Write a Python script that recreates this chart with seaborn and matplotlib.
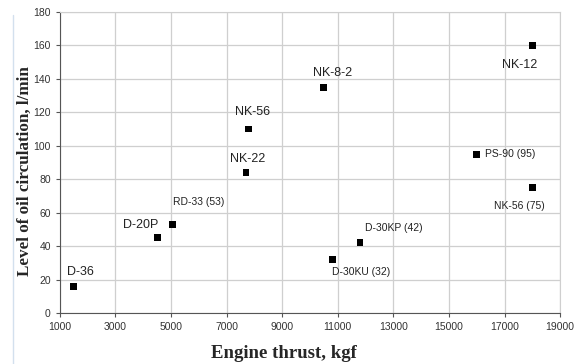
import seaborn as sns
import matplotlib.pyplot as plt
import pandas as pd
from matplotlib.lines import Line2D

engines = ["D-36", "D-20P", "RD-33 (53)", "NK-22", "NK-56", "NK-8-2",
           "D-30KU (32)", "D-30KP (42)", "NK-12", "PS-90 (95)", "NK-56 (75)"]
thrust = [1500, 4500, 5050, 7700, 7800, 10500, 10800, 11800, 18000, 16000, 18000]
oil = [16, 45, 53, 84, 110, 135, 32, 42, 160, 95, 75]
# label offsets in points, horizontal alignment, font size
offsets = [(5, 10), (-12, 9), (19, 16), (1, 10), (3, 12), (6, 10),
           (21, -9), (24, 11), (-9, -14), (6, 0), (-9, -13)]
aligns = ["center"] * 9 + ["left", "center"]
sizes = [9, 9, 7.5, 9, 9, 9, 7.5, 7.5, 9, 7.5, 7.5]

df = pd.DataFrame({"thrust": thrust, "oil": oil, "engine": engines})

sns.set_style("white")
plt.rcParams['font.family'] = ['Liberation Sans', 'DejaVu Sans']

fig = plt.figure(figsize=(5.81, 3.64), dpi=100)
ax = fig.add_axes([0.103, 0.140, 0.861, 0.827])

sns.scatterplot(data=df, x="thrust", y="oil", marker="s", color="black",
                s=24, edgecolor="none", ax=ax, zorder=3)

for name, xv, yv, off, ha, fs in zip(engines, thrust, oil, offsets, aligns, sizes):
    ax.annotate(name, (xv, yv), xytext=off, textcoords="offset points",
                ha=ha, va="center", fontsize=fs, color="#222222")

ax.set_xlim(1000, 19000)
ax.set_ylim(0, 180)
ax.set_xticks(range(1000, 19001, 2000))
ax.set_yticks(range(0, 181, 20))
ax.grid(True, color="#cfcfcf", linewidth=0.9)
ax.tick_params(labelsize=7.5, length=3, color="#555555", direction="out",
               left=True, bottom=True, labelcolor="#333333")
for side in ["top", "right"]:
    ax.spines[side].set_color("#cfcfcf")
for side in ["left", "bottom"]:
    ax.spines[side].set_color("#555555")

ax.set_xlabel("Engine thrust, kgf", family="Liberation Serif", fontweight="bold",
              fontsize=13.5, labelpad=6)
ax.xaxis.set_label_coords(0.447, -0.105)
ax.set_ylabel("Level of oil circulation, l/min", family="Liberation Serif",
              fontweight="bold", fontsize=12.3)
ax.yaxis.set_label_coords(-0.054, 0.47)

# thin border line at the left of the picture
fig.add_artist(Line2D([0.022, 0.022], [0.0, 0.96], color="#d3e0ee", linewidth=1.0))

fig.savefig("out.png", dpi=100)
